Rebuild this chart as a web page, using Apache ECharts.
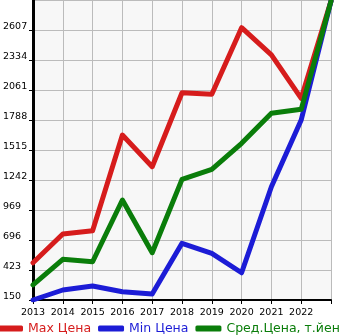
<!DOCTYPE html>
<html><head><meta charset="utf-8">
<script src="https://cdn.jsdelivr.net/npm/echarts@6/dist/echarts.min.js"></script>
<style>html,body{margin:0;padding:0;background:#fff}#c{width:345px;height:335px}</style>
</head><body><div id="c"></div>
<script>
const years = ['2013','2014','2015','2016','2017','2018','2019','2020','2021','2022','2023'];
const maxPrice = [489, 750, 780, 1651, 1363, 2036, 2022, 2628, 2380, 1985, 2870];
const minPrice = [150, 241, 277, 225, 205, 666, 575, 398, 1181, 1788, 2870];
const avgPrice = [287, 520, 498, 1060, 580, 1248, 1339, 1576, 1849, 1885, 2870];
const yMin = 150, yMax = 2880, yStep = 273;
const names = ['Max Цена', 'Min Цена', 'Сред.Цена, т.йен'];
const colors = ['#d61c1c', '#1c1cd6', '#0a7d0a'];

const chart = echarts.init(document.getElementById('c'), null, {renderer: 'canvas'});
const font = 'DejaVu Sans';
chart.setOption({
  animation: false,
  grid: {left: 31, right: 14, top: 0, bottom: 35, show: true, backgroundColor: '#f7f7f7', borderWidth: 0},
  legend: {
    bottom: 0, left: -3, width: 420, padding: [0, 0, 0, 0], itemGap: 7, itemWidth: 26, itemHeight: 6,
    icon: 'roundRect',
    textStyle: {fontFamily: font, fontSize: 12.5},
    data: names.map((n, i) => ({name: n, textStyle: {color: colors[i]}}))
  },
  xAxis: {
    type: 'category', data: years, boundaryGap: false,
    axisLine: {lineStyle: {color: '#000', width: 2}},
    axisTick: {show: true, length: 4, lineStyle: {color: '#000', width: 1}, interval: 0},
    axisLabel: {color: '#000', fontFamily: font, fontSize: 9.5, margin: 8,
      interval: (i) => i < years.length - 1},
    splitLine: {show: true, interval: 0, lineStyle: {color: '#bbbbbb', width: 1}}
  },
  yAxis: {
    type: 'value', min: yMin, max: yMax, interval: yStep,
    axisLine: {show: true, lineStyle: {color: '#000', width: 3}},
    axisTick: {show: true, length: 4, lineStyle: {color: '#000', width: 1}},
    axisLabel: {color: '#000', fontFamily: font, fontSize: 9.5, align: 'left', margin: 30,
      verticalAlign: 'bottom', padding: [0, 0, -2, 0], showMaxLabel: false, formatter: (v) => String(v)},
    splitLine: {show: true, lineStyle: {color: '#bbbbbb', width: 1}}
  },
  series: [
    {name: names[0], type: 'line', data: maxPrice},
    {name: names[1], type: 'line', data: minPrice},
    {name: names[2], type: 'line', data: avgPrice}
  ].map((s, i) => Object.assign(s, {
    showSymbol: false, symbol: 'none', color: colors[i],
    lineStyle: {width: 5, color: colors[i], cap: 'round', join: 'round'}
  }))
});
</script></body></html>
